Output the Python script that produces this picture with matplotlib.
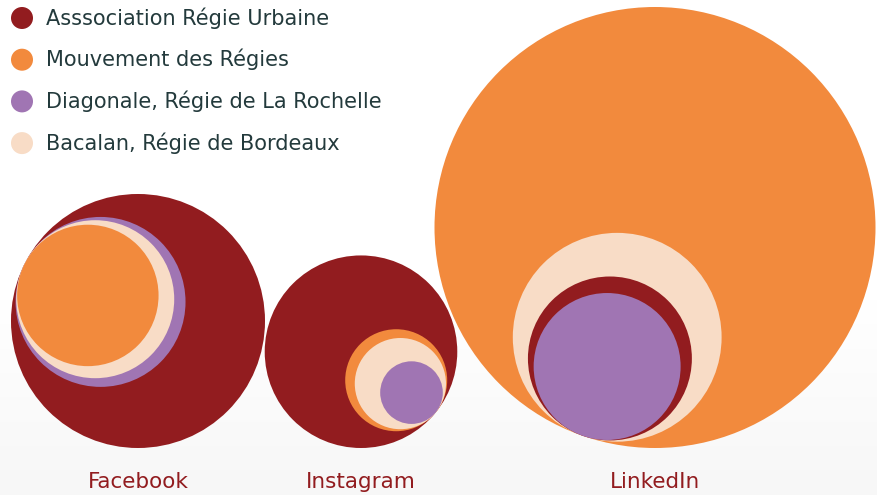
import numpy as np
import matplotlib
matplotlib.use('Agg')
import matplotlib.pyplot as plt
from matplotlib.patches import Circle

# réseaux sociaux et structures
platforms = ['Facebook', 'Instagram', 'LinkedIn']
structures = ['Asssociation Régie Urbaine', 'Mouvement des Régies',
              'Diagonale, Régie de La Rochelle', 'Bacalan, Régie de Bordeaux']
colors = ['#921c1f', '#f28a3d', '#a075b3', '#f8dcc6']

# abonnés (aire des cercles)
facebook = [1613, 500, 722, 624]
instagram = [927, 260, 98, 208]
linkedin = [672, 4862, 540, 1090]

# mise en page des groupes (pixels)
group_x = [138, 361, 655]
group_angle = [207, 39, 109]   # point de tangence des cercles imbriqués
base_y = 448

W, H = 877, 495
fig = plt.figure(figsize=(W / 100, H / 100), dpi=100)
ax = fig.add_axes([0, 0, 1, 1])
ax.set_xlim(0, W)
ax.set_ylim(H, 0)
ax.set_aspect('equal')
ax.axis('off')

# fond légèrement dégradé en bas
yy = np.linspace(0, 1, H)
grad = np.clip((yy * H - 300) / 195, 0, 1)
shade = 1 - grad * (8 / 255)
img = np.repeat(shade[:, None], 2, axis=1)
ax.imshow(np.dstack([img, img, img]), extent=[0, W, H, 0], aspect='auto', zorder=0)

for gx, ang, vals in zip(group_x, group_angle, [facebook, instagram, linkedin]):
    radii = np.sqrt(np.array(vals) * 10.0)
    R = radii.max()
    cx, cy = gx, base_y - R
    d = np.array([np.cos(np.radians(ang)), np.sin(np.radians(ang))])
    tx, ty = cx + R * d[0], cy + R * d[1]
    order = np.argsort(-radii)
    for z, i in enumerate(order):
        r = radii[i]
        ax.add_patch(Circle((tx - r * d[0], ty - r * d[1]), r,
                            facecolor=colors[i], edgecolor='none', zorder=2 + z))

for gx, name in zip(group_x, platforms):
    ax.text(gx, 482, name, ha='center', va='center', fontsize=15.5,
            color='#921c1f', family='DejaVu Sans')

# légende
for k, (name, c) in enumerate(zip(structures, colors)):
    y = 18 + k * 41.7
    ax.add_patch(Circle((22, y), 11, facecolor=c, edgecolor='none', zorder=10))
    ax.text(46, y, name, ha='left', va='center', fontsize=15,
            color='#233a3c', family='DejaVu Sans', zorder=10)

fig.savefig('out.png', dpi=100)
